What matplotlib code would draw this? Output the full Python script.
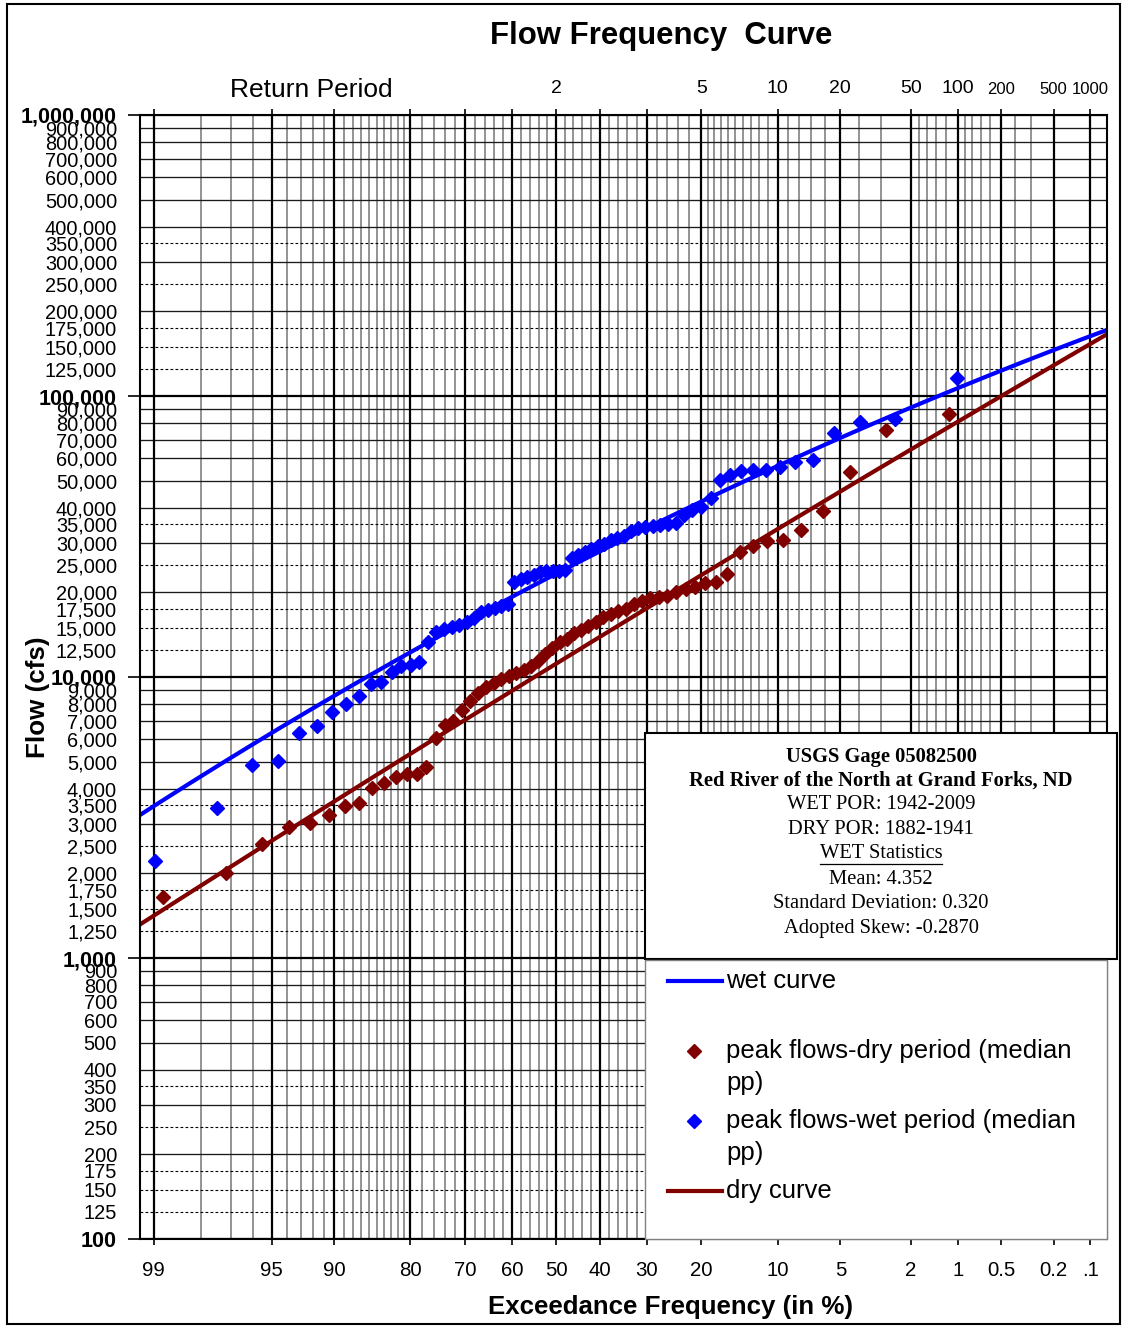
import numpy as np
import matplotlib
matplotlib.use("Agg")
import matplotlib.pyplot as plt
from matplotlib.patches import Rectangle
from matplotlib.lines import Line2D
from matplotlib.ticker import FixedLocator, FixedFormatter, NullLocator
from statistics import NormalDist

plt.rcParams['font.family'] = ['Liberation Sans', 'DejaVu Sans']

# Annual peak flows (cfs), ranked largest to smallest
wet_peaks = [116000, 82800, 80800, 73900, 59200, 58300, 55900, 54600, 54400, 54100,
             52400, 50200, 43400, 40300, 39300, 37700, 35300, 35100, 34700, 34500,
             34300, 33900, 33100, 31800, 31200, 30700, 29700, 29300, 28600, 27900,
             27200, 26500, 24100, 23900, 23900, 23800, 23600, 23100, 22700, 22300,
             21800, 18200, 17900, 17600, 17300, 17000, 16200, 15700, 15300, 15100,
             14800, 14500, 13300, 11300, 11000, 10900, 10400, 9600, 9440, 8560,
             8010, 7500, 6690, 6320, 5020, 4860, 3420, 2210]
dry_peaks = [86300, 75900, 53600, 39000, 33400, 30700, 30500, 29300, 27900, 23300,
             21800, 21600, 20900, 20600, 20100, 19400, 19300, 19100, 18600, 18200,
             17500, 17200, 16800, 16400, 15700, 15200, 14700, 14400, 13700, 13300,
             12700, 12100, 11400, 10900, 10600, 10300, 10100, 9840, 9520, 9210,
             8770, 8220, 7630, 6980, 6750, 6070, 4780, 4520, 4500, 4410,
             4200, 4030, 3560, 3480, 3230, 3020, 2930, 2550, 2010, 1650]

# Log-Pearson III statistics of log10(flow): mean, standard deviation, skew
wet_lp3 = (4.352, 0.320, -0.2870)
dry_lp3 = (4.044, 0.378, -0.05)

# Probability-paper grid (exceedance, %)
exceed_major = [99, 95, 90, 80, 70, 60, 50, 40, 30, 20, 10, 5, 2, 1, 0.5, 0.2, 0.1]
exceed_major_labels = ['99', '95', '90', '80', '70', '60', '50', '40', '30', '20',
                       '10', '5', '2', '1', '0.5', '0.2', '.1']
exceed_minor = [98, 97, 96, 94, 93, 92, 91, 89, 88, 87, 86, 85, 84, 83, 82, 81,
                78, 76, 74, 72, 68, 66, 64, 62, 58, 56, 54, 52, 48, 46, 44, 42,
                38, 36, 34, 32, 28, 26, 24, 22, 19, 18, 17, 16, 15, 14, 13, 12, 11,
                9, 8, 7, 6, 4, 3, 1.8, 1.6, 1.4, 1.2, 0.9, 0.8, 0.7, 0.6, 0.4, 0.3]
return_periods = [2, 5, 10, 20, 50, 100, 200, 500, 1000]

# Flow grid (cfs)
flow_decades = [100, 1000, 10000, 100000, 1000000]
flow_solid_mult = [2, 3, 4, 5, 6, 7, 8, 9]
flow_dashed_mult = [1.25, 1.5, 1.75, 2.5, 3.5]

stats_lines = ["USGS Gage 05082500",
               "Red River of the North at Grand Forks, ND",
               "WET POR: 1942-2009",
               "DRY POR: 1882-1941",
               "WET Statistics",
               "Mean: 4.352",
               "Standard Deviation: 0.320",
               "Adopted Skew: -0.2870"]

BLUE = '#0000FF'
DRED = '#800000'

_nd = NormalDist()
_inv = np.vectorize(_nd.inv_cdf, otypes=[float])
_cdf = np.vectorize(_nd.cdf, otypes=[float])


def prob_forward(p):
    """Exceedance percent -> normal deviate (increasing with p)."""
    q = np.clip(np.asarray(p, dtype=float) / 100.0, 1e-12, 1 - 1e-12)
    return _inv(q)


def prob_inverse(s):
    return 100.0 * _cdf(np.asarray(s, dtype=float))


def lp3_flow(z, mean, sd, skew):
    """z is the standard normal deviate of non-exceedance probability."""
    if abs(skew) < 1e-9:
        k = z
    else:
        k = (2.0 / skew) * ((1.0 + skew * z / 6.0 - skew ** 2 / 36.0) ** 3 - 1.0)
    return 10.0 ** (mean + sd * k)


def median_pp(n):
    ranks = np.arange(1, n + 1)
    return 100.0 * (ranks - 0.3) / (n + 0.4)


W, H = 1123, 1326
fig = plt.figure(figsize=(W / 100, H / 100), dpi=100)


def fx(px):
    return px / W


def fy(py):
    return 1.0 - py / H


AX_L, AX_R, AX_T, AX_B = 140, 1107, 115, 1239
Z_LEFT, Z_RIGHT = -2.406, 3.187   # non-exceedance deviates at the plot edges

ax = fig.add_axes([fx(AX_L), fy(AX_B), fx(AX_R) - fx(AX_L), fy(AX_T) - fy(AX_B)])
ax.set_xscale('function', functions=(prob_forward, prob_inverse))
ax.set_yscale('log')
xlim = (float(prob_inverse(-Z_LEFT)), float(prob_inverse(-Z_RIGHT)))
ax.set_xlim(*xlim)
ax.set_ylim(100, 1000000)

# vertical grid
for p in exceed_minor:
    ax.axvline(p, color='#808080', lw=1.2, zorder=1)
for p in exceed_major:
    ax.axvline(p, color='black', lw=1.6, zorder=1.3)

# horizontal grid
for d in flow_decades[:-1]:
    for m in flow_solid_mult:
        ax.axhline(d * m, color='#1a1a1a', lw=0.95, zorder=1.1)
    for m in flow_dashed_mult:
        ax.axhline(d * m, color='black', lw=0.8, ls=(0, (2.5, 2.0)), zorder=1.1)
for d in flow_decades:
    ax.axhline(d, color='black', lw=1.6, zorder=1.3)

# frequency curves from the log-Pearson III statistics
z_grid = np.linspace(Z_LEFT - 0.05, Z_RIGHT + 0.05, 400)
p_grid = prob_inverse(-z_grid)
ax.plot(p_grid, lp3_flow(z_grid, *wet_lp3), color=BLUE, lw=3.0, zorder=4,
        solid_capstyle='butt')
ax.plot(p_grid, lp3_flow(z_grid, *dry_lp3), color=DRED, lw=3.0, zorder=4,
        solid_capstyle='butt')

# observed peaks at median plotting positions
ax.plot(median_pp(len(dry_peaks)), dry_peaks, ls='none', marker='D', ms=7.5,
        color=DRED, mec=DRED, zorder=5)
ax.plot(median_pp(len(wet_peaks)), wet_peaks, ls='none', marker='D', ms=7.5,
        color=BLUE, mec=BLUE, zorder=5)

for s in ax.spines.values():
    s.set_linewidth(1.5)
    s.set_color('black')
    s.set_zorder(6)

# y ticks
flow_labelled = [d * m for d in flow_decades[:-1] for m in
                 sorted(flow_solid_mult + flow_dashed_mult)]
ax.yaxis.set_major_locator(FixedLocator(flow_decades))
ax.yaxis.set_major_formatter(FixedFormatter([f"{v:,.0f}" for v in flow_decades]))
ax.yaxis.set_minor_locator(FixedLocator(flow_labelled))
ax.yaxis.set_minor_formatter(FixedFormatter([f"{v:,.0f}" for v in flow_labelled]))
ax.tick_params(axis='y', which='major', length=8.6, width=1.2, pad=8,
               labelsize=15.5)
ax.tick_params(axis='y', which='minor', length=0, pad=16.5, labelsize=14.4)
for lbl in ax.yaxis.get_majorticklabels():
    lbl.set_fontweight('bold')

# return-period labels along the top
ax_rp = ax.twiny()
ax_rp.set_xscale('function', functions=(prob_forward, prob_inverse))
ax_rp.set_xlim(*xlim)
ax_rp.xaxis.set_major_locator(FixedLocator([100.0 / t for t in return_periods]))
ax_rp.xaxis.set_major_formatter(FixedFormatter([str(t) for t in return_periods]))
ax_rp.xaxis.set_minor_locator(NullLocator())
ax_rp.tick_params(axis='x', length=0, pad=13, labelsize=14)
for s in ax_rp.spines.values():
    s.set_visible(False)
for lbl, t in zip(ax_rp.xaxis.get_majorticklabels(), return_periods):
    if t >= 200:
        lbl.set_fontsize(12)

# x ticks (exceedance)
ax.xaxis.set_major_locator(FixedLocator(exceed_major))
ax.xaxis.set_major_formatter(FixedFormatter(exceed_major_labels))
ax.xaxis.set_minor_locator(NullLocator())
ax.tick_params(axis='x', which='major', direction='out', length=4, width=1.2,
               top=True, bottom=True, labeltop=False, labelbottom=True,
               labelsize=14.7, pad=12)

# titles and axis labels
fig.text(fx(661), fy(36), "Flow Frequency  Curve", ha='center', va='center',
         fontsize=22.4, fontweight='bold')
fig.text(fx(311), fy(90), "Return Period", ha='center', va='center', fontsize=19)
fig.text(fx(671), fy(1307), "Exceedance Frequency (in %)", ha='center',
         va='center', fontsize=18.6, fontweight='bold')
fig.text(fx(38), fy(697), "Flow (cfs)", ha='center', va='center', rotation=90,
         fontsize=18.7, fontweight='bold')

# statistics box
fig.add_artist(Rectangle((fx(645), fy(959)), fx(1117) - fx(645), fy(733) - fy(959),
                         transform=fig.transFigure, facecolor='white',
                         edgecolor='black', lw=1.5, zorder=10))
serif = ['Liberation Serif', 'DejaVu Serif']
stat_y = [757, 781, 805, 830, 854, 879, 903, 928]
stat_texts = []
for i, (line, yy) in enumerate(zip(stats_lines, stat_y)):
    t = fig.text(fx(881), fy(yy), line, ha='center', va='center', fontsize=14.8,
                 family=serif, fontweight='bold' if i < 2 else 'normal', zorder=11)
    stat_texts.append(t)

# legend
fig.add_artist(Rectangle((fx(645), fy(1239)), fx(1107) - fx(645), fy(960) - fy(1239),
                         transform=fig.transFigure, facecolor='white',
                         edgecolor='#808080', lw=1.0, zorder=10))
fig.add_artist(Line2D([fx(668), fx(722)], [fy(981), fy(981)], color=BLUE, lw=3.0,
                      transform=fig.transFigure, zorder=11))
fig.add_artist(Line2D([fx(668), fx(722)], [fy(1191), fy(1191)], color=DRED, lw=3.0,
                      transform=fig.transFigure, zorder=11))
fig.add_artist(Line2D([fx(694)], [fy(1051)], ls='none', marker='D', ms=7.5,
                      color=DRED, transform=fig.transFigure, zorder=11))
fig.add_artist(Line2D([fx(694)], [fy(1121)], ls='none', marker='D', ms=7.5,
                      color=BLUE, transform=fig.transFigure, zorder=11))
leg_entries = [("wet curve", 981), ("peak flows-dry period (median", 1051),
               ("pp)", 1083), ("peak flows-wet period (median", 1121),
               ("pp)", 1153), ("dry curve", 1191)]
for txt, yy in leg_entries:
    fig.text(fx(726), fy(yy), txt, ha='left', va='center', fontsize=18.5, zorder=11)

# outer frame
fig.add_artist(Rectangle((fx(7), fy(1324)), fx(1120) - fx(7), fy(4) - fy(1324),
                         transform=fig.transFigure, fill=False, edgecolor='black',
                         lw=1.5, zorder=12))

# underline beneath the statistics heading
fig.canvas.draw()
bb = stat_texts[4].get_window_extent()
fig.add_artist(Line2D([bb.x0 / W, bb.x1 / W], [fy(864), fy(864)], color='black',
                      lw=0.9, transform=fig.transFigure, zorder=11))

fig.savefig("out.png", dpi=100)
